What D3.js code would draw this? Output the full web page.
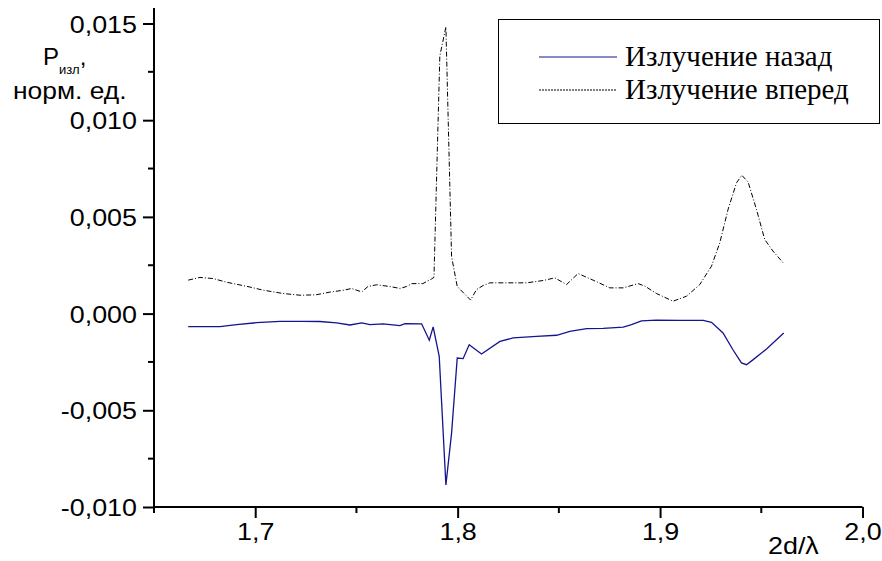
<!DOCTYPE html>
<html>
<head>
<meta charset="utf-8">
<script src="https://cdn.jsdelivr.net/npm/d3@7"></script>
<style>
  body { margin: 0; background: #fff; }
  svg { display: block; }
  .sans { font-family: 'Liberation Sans', Arial, sans-serif; }
  .serif { font-family: 'Liberation Serif', 'Times New Roman', Times, serif; }
</style>
</head>
<body>
<div id="chart"></div>
<script>
// backward radiation (blue solid)
const xBack = [1.6669, 1.6826, 1.6908, 1.7007, 1.7122, 1.7237, 1.7320, 1.7402, 1.7468, 1.7526,
  1.7567, 1.7632, 1.7715, 1.7740, 1.7822, 1.7860, 1.7879, 1.7909, 1.7942, 1.7970,
  1.7998, 1.8027, 1.8057, 1.8090, 1.8118, 1.8209, 1.8274, 1.8390, 1.8489, 1.8554,
  1.8637, 1.8719, 1.8818, 1.8859, 1.8908, 1.8982, 1.9098, 1.9213, 1.9254, 1.9311,
  1.9360, 1.9402, 1.9427, 1.9460, 1.9526, 1.9611];
const pBack = [-0.00067, -0.00067, -0.00057, -0.00047, -0.00040, -0.00040, -0.00041, -0.00048, -0.00059, -0.00048,
  -0.00057, -0.00053, -0.00062, -0.00052, -0.00053, -0.00138, -0.00069, -0.00221, -0.00886, -0.00618,
  -0.00230, -0.00233, -0.00161, -0.00187, -0.00209, -0.00144, -0.00126, -0.00118, -0.00112, -0.00092,
  -0.00078, -0.00076, -0.00070, -0.00057, -0.00038, -0.00034, -0.00035, -0.00035, -0.00045, -0.00100,
  -0.00187, -0.00255, -0.00264, -0.00238, -0.00183, -0.00100];

// forward radiation (black dash-dot)
const xFwd = [1.6669, 1.6727, 1.6793, 1.6859, 1.6958, 1.7040, 1.7137, 1.7221, 1.7300, 1.7369,
  1.7443, 1.7476, 1.7526, 1.7557, 1.7600, 1.7665, 1.7715, 1.7748, 1.7773, 1.7828,
  1.7871, 1.7883, 1.7912, 1.7942, 1.7970, 1.7998, 1.8064, 1.8093, 1.8126, 1.8159,
  1.8225, 1.8340, 1.8423, 1.8480, 1.8538, 1.8595, 1.8669, 1.8752, 1.8818, 1.8892,
  1.8925, 1.8982, 1.9064, 1.9131, 1.9196, 1.9254, 1.9295, 1.9336, 1.9378, 1.9404,
  1.9435, 1.9476, 1.9517, 1.9558, 1.9611];
const pFwd = [0.00173, 0.00187, 0.00181, 0.00162, 0.00141, 0.00121, 0.00104, 0.00095, 0.00097, 0.00111,
  0.00122, 0.00130, 0.00112, 0.00140, 0.00149, 0.00140, 0.00130, 0.00140, 0.00155, 0.00155,
  0.00179, 0.00187, 0.01332, 0.01482, 0.00295, 0.00140, 0.00070, 0.00124, 0.00145, 0.00159,
  0.00159, 0.00159, 0.00171, 0.00185, 0.00150, 0.00207, 0.00173, 0.00133, 0.00133, 0.00155,
  0.00142, 0.00104, 0.00064, 0.00090, 0.00150, 0.00245, 0.00366, 0.00539, 0.00677, 0.00715,
  0.00680, 0.00539, 0.00383, 0.00323, 0.00259];

const yTicks = [-0.010, -0.005, 0.000, 0.005, 0.010, 0.015];
const yMinor = [-0.0075, -0.0025, 0.0025, 0.0075, 0.0125];
const xTicks = [1.7, 1.8, 1.9, 2.0];
const xMinor = [1.65, 1.75, 1.85, 1.95];
const seriesNames = ['Излучение назад', 'Излучение вперед'];

const width = 882, height = 561;
const fmt = d => d3.format('.3f')(d).replace('.', ',').replace('−', '-');
const fmtX = d => d3.format('.1f')(d).replace('.', ',');

const svg = d3.select('#chart').append('svg')
  .attr('width', width)
  .attr('height', height);

const x = d3.scaleLinear().domain([1.65, 2.0]).range([154, 862.5]);
const y = d3.scaleLinear().domain([-0.010, 0.0158]).range([507, 8]);

// stretch labels a bit wider, like the original
function stretch(sel, k) {
  sel.each(function() {
    const w = this.getComputedTextLength();
    d3.select(this).attr('textLength', w * k).attr('lengthAdjust', 'spacingAndGlyphs');
  });
}

// y axis
const yAxis = svg.append('g').attr('transform', `translate(${x(1.65)},0)`);
yAxis.call(d3.axisLeft(y).tickValues(yTicks).tickSize(11).tickPadding(6).tickFormat(fmt));
yAxis.append('g').selectAll('line')
  .data(yMinor)
  .enter().append('line')
  .attr('x1', -6).attr('x2', 0)
  .attr('y1', d => y(d)).attr('y2', d => y(d));

// x axis
const xAxis = svg.append('g').attr('transform', `translate(0,${y(-0.010)})`);
xAxis.call(d3.axisBottom(x).tickValues(xTicks).tickSize(11).tickPadding(6).tickFormat(fmtX));
xAxis.append('g').selectAll('line')
  .data(xMinor)
  .enter().append('line')
  .attr('x1', d => x(d)).attr('x2', d => x(d))
  .attr('y1', 0).attr('y2', 6);

svg.selectAll('.domain').attr('stroke', '#000').attr('stroke-width', 2);
yAxis.select('.domain').attr('d', `M0,${y(-0.010)}V8`);
xAxis.select('.domain').attr('d', `M${x(1.65)},0H${x(2.0)}`);
svg.selectAll('.tick line').attr('stroke', '#000').attr('stroke-width', 2);
yAxis.selectAll('g > line').attr('stroke', '#000').attr('stroke-width', 2);
xAxis.selectAll('g > line').attr('stroke', '#000').attr('stroke-width', 2);

svg.selectAll('.tick text')
  .attr('class', 'sans')
  .attr('font-family', null)
  .attr('font-size', 24)
  .attr('fill', '#000');
yAxis.selectAll('.tick text').attr('dy', '0.36em');
xAxis.selectAll('.tick text').attr('dy', '0.68em');
stretch(svg.selectAll('.tick text'), 1.12);

// axis titles
const yTitle = svg.append('text')
  .attr('class', 'sans')
  .attr('font-size', 24)
  .attr('x', 43).attr('y', 65);
yTitle.append('tspan').text('P');
yTitle.append('tspan').attr('font-size', 13).attr('dy', 9).text('изл');
yTitle.append('tspan').attr('dy', -9).text(',');

svg.append('text')
  .attr('class', 'sans')
  .attr('font-size', 24)
  .attr('x', 13).attr('y', 99)
  .text('норм. ед.')
  .call(stretch, 1.1);

svg.append('text')
  .attr('class', 'sans')
  .attr('font-size', 24)
  .attr('x', 768).attr('y', 554)
  .text('2d/λ')
  .call(stretch, 1.12);

// lines
const line = (xs, ps) => d3.line()
  .x((d, i) => x(xs[i]))
  .y(d => y(d))(ps);

svg.append('path')
  .attr('d', line(xFwd, pFwd))
  .attr('fill', 'none')
  .attr('stroke', '#000')
  .attr('stroke-width', 1)
  .attr('stroke-dasharray', '5,2,1,2');

svg.append('path')
  .attr('d', line(xBack, pBack))
  .attr('fill', 'none')
  .attr('stroke', '#14148c')
  .attr('stroke-width', 1.3);

// legend
const legend = svg.append('g');
legend.append('rect')
  .attr('x', 498.5).attr('y', 19.5)
  .attr('width', 381).attr('height', 104)
  .attr('fill', 'none')
  .attr('stroke', '#000')
  .attr('stroke-width', 1);

const legendStyles = [
  { stroke: '#14148c', dash: null },
  { stroke: '#000', dash: '2,1' }
];
seriesNames.forEach((name, i) => {
  const ly = 57 + i * 33;
  legend.append('line')
    .attr('x1', 539).attr('x2', 617)
    .attr('y1', ly).attr('y2', ly)
    .attr('stroke', legendStyles[i].stroke)
    .attr('stroke-width', 1)
    .attr('stroke-dasharray', legendStyles[i].dash);
  legend.append('text')
    .attr('class', 'serif')
    .attr('x', 625).attr('y', ly + 9)
    .attr('font-size', 29)
    .text(name);
});
</script>
</body>
</html>
